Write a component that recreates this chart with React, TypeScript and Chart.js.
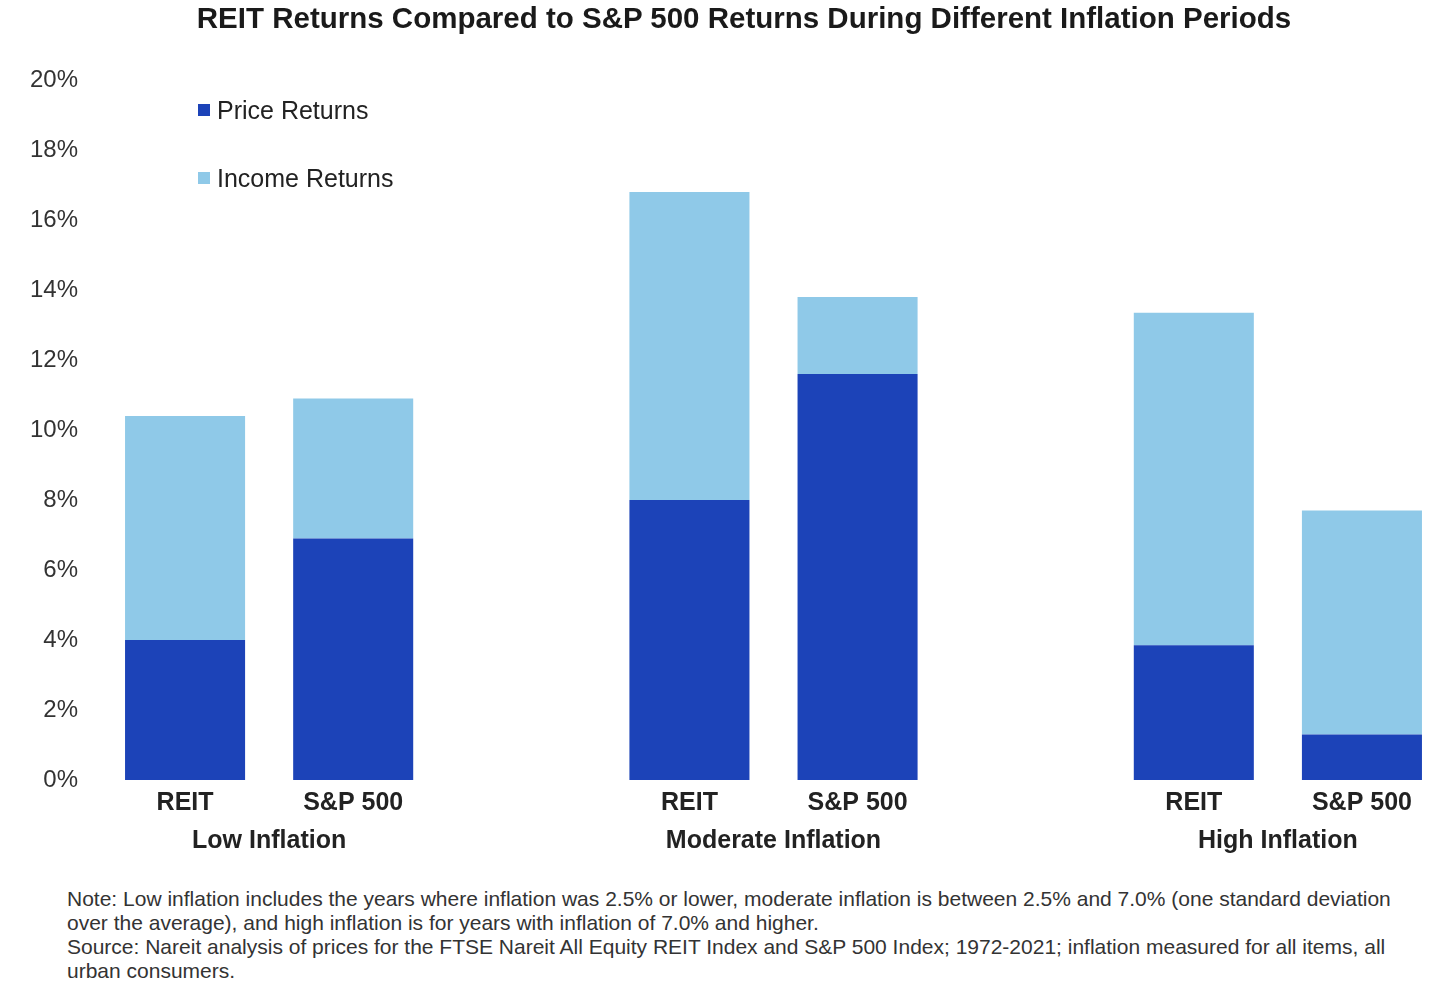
import { useEffect, useRef } from "react";
import { Chart, registerables } from "chart.js";

Chart.register(...registerables);

// two empty slots keep the three inflation groups apart
const categories = ["REIT", "S&P 500", "", "REIT", "S&P 500", "", "REIT", "S&P 500"];
const priceReturns = [4.0, 6.9, null, 8.0, 11.6, null, 3.85, 1.3];
const incomeReturns = [6.4, 4.0, null, 8.8, 2.2, null, 9.5, 6.4];
const groupLabels = ["Low Inflation", "Moderate Inflation", "High Inflation"];
const yTicks = [0, 2, 4, 6, 8, 10, 12, 14, 16, 18, 20];

const seriesNames = ["Price Returns", "Income Returns"];
const seriesColors = ["#1c43b8", "#8fc9e8"];

const noteLines = [
  "Note: Low inflation includes the years where inflation was 2.5% or lower, moderate inflation is between 2.5% and 7.0% (one standard deviation",
  "over the average), and high inflation is for years with inflation of 7.0% and higher.",
  "Source: Nareit analysis of prices for the FTSE Nareit All Equity REIT Index and S&P 500 Index; 1972-2021; inflation measured for all items, all",
  "urban consumers.",
];

const FONT = "'Liberation Sans', Arial, Helvetica, sans-serif";

export default function App() {
  const canvasRef = useRef<HTMLCanvasElement>(null);
  const chartRef = useRef<Chart | null>(null);

  useEffect(() => {
    document.body.style.margin = "0";
    if (!canvasRef.current) return;
    const ctx = canvasRef.current.getContext("2d");
    if (!ctx) return;

    if (chartRef.current) {
      chartRef.current.destroy();
      chartRef.current = null;
    }

    chartRef.current = new Chart(ctx, {
      type: "bar",
      data: {
        labels: categories,
        datasets: [
          {
            label: seriesNames[0],
            data: priceReturns,
            backgroundColor: seriesColors[0],
            categoryPercentage: 1,
            barPercentage: 0.714,
          },
          {
            label: seriesNames[1],
            data: incomeReturns,
            backgroundColor: seriesColors[1],
            categoryPercentage: 1,
            barPercentage: 0.714,
          },
        ],
      },
      options: {
        responsive: true,
        maintainAspectRatio: false,
        animation: false,
        layout: { padding: { top: 80, right: 10, bottom: 0, left: 0 } },
        plugins: {
          legend: { display: false },
          title: { display: false },
          tooltip: { enabled: false },
        },
        scales: {
          x: {
            stacked: true,
            weight: 1,
            grid: { display: false, drawTicks: false },
            border: { display: false },
            ticks: {
              color: "#222",
              font: { family: FONT, size: 25, weight: "bold" },
              padding: 8,
              maxRotation: 0,
              autoSkip: false,
            },
            afterFit: (scale: any) => {
              scale.height = 42;
            },
          },
          // group names sit halfway between each REIT / S&P 500 pair
          x2: {
            type: "linear",
            position: "bottom",
            weight: 2,
            offset: false,
            min: -0.5,
            max: categories.length - 0.5,
            grid: { display: false, drawTicks: false, offset: false },
            border: { display: false },
            afterBuildTicks: (scale: any) => {
              scale.ticks = groupLabels.map((_, i) => ({ value: i * 3 + 0.5 }));
            },
            ticks: {
              color: "#222",
              font: { family: FONT, size: 25, weight: "bold" },
              padding: 4,
              maxRotation: 0,
              autoSkip: false,
              callback: (v: any) => groupLabels[Math.round((Number(v) - 0.5) / 3)] ?? "",
            },
            afterFit: (scale: any) => {
              scale.height = 40;
            },
          },
          y: {
            stacked: true,
            min: 0,
            max: 20,
            grid: { display: false, drawTicks: false },
            border: { display: false },
            afterBuildTicks: (scale: any) => {
              scale.ticks = yTicks.map((v) => ({ value: v }));
            },
            ticks: {
              color: "#333",
              font: { family: FONT, size: 24 },
              padding: 23,
              callback: (v: any) => `${v}%`,
            },
            afterFit: (scale: any) => {
              scale.width = 101;
            },
          },
        },
      },
    });

    return () => {
      if (chartRef.current) {
        chartRef.current.destroy();
        chartRef.current = null;
      }
    };
  }, []);

  return (
    <div
      style={{
        position: "relative",
        width: 1456,
        height: 1001,
        background: "#fff",
        fontFamily: FONT,
        color: "#222",
        overflow: "hidden",
      }}
    >
      <div style={{ position: "absolute", inset: 0, height: 862 }}>
        <canvas ref={canvasRef}></canvas>
      </div>
      <div
        style={{
          position: "absolute",
          top: 0,
          left: 32,
          width: 1424,
          textAlign: "center",
          fontSize: 29.5,
          fontWeight: "bold",
          lineHeight: "36px",
          color: "#1a1a1a",
        }}
      >
        REIT Returns Compared to S&amp;P 500 Returns During Different Inflation Periods
      </div>
      {seriesNames.map((name, i) => (
        <div
          key={name}
          style={{
            position: "absolute",
            left: 198,
            top: 95 + i * 68,
            height: 30,
            display: "flex",
            alignItems: "center",
            fontSize: 25,
            color: "#222",
          }}
        >
          <span
            style={{
              display: "inline-block",
              width: 12,
              height: 12,
              background: seriesColors[i],
              marginRight: 7,
            }}
          ></span>
          {name}
        </div>
      ))}
      <div
        style={{
          position: "absolute",
          left: 67,
          top: 887,
          fontSize: 21,
          lineHeight: "24px",
          color: "#333",
          whiteSpace: "nowrap",
        }}
      >
        {noteLines.map((line) => (
          <div key={line}>{line}</div>
        ))}
      </div>
    </div>
  );
}
